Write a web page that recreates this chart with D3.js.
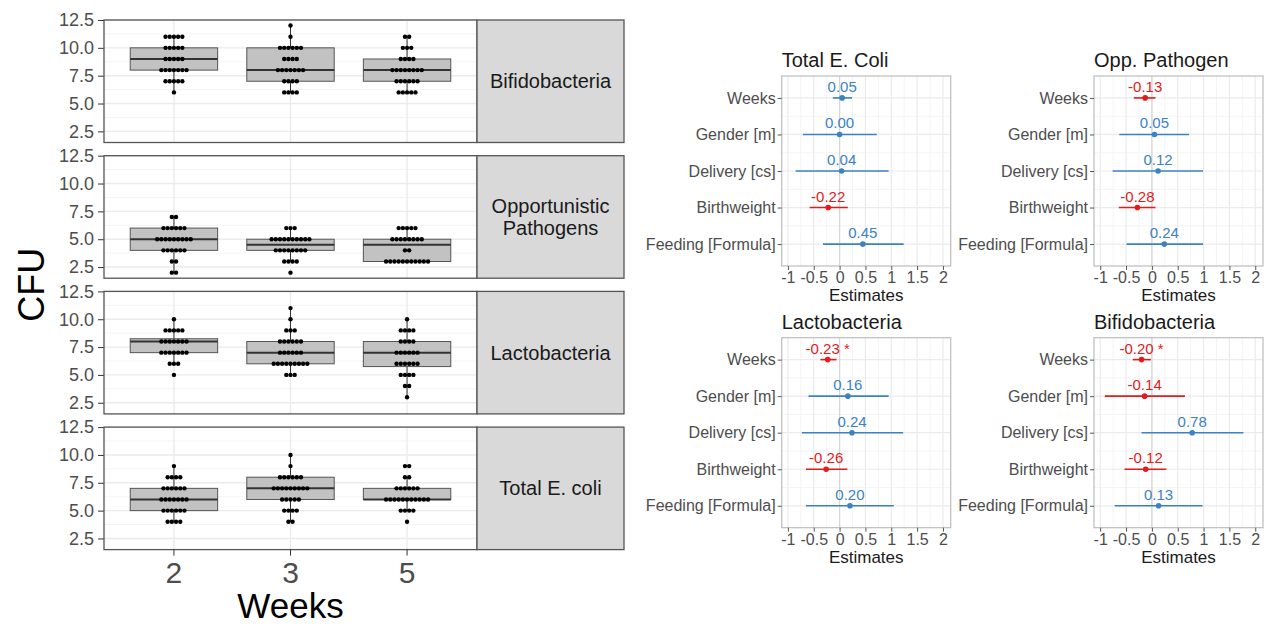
<!DOCTYPE html>
<html>
<head>
<meta charset="utf-8">
<script src="https://cdn.jsdelivr.net/npm/d3@7"></script>
<style>
body { margin: 0; background: #fff; }
svg { font-family: "Liberation Sans", Arial, sans-serif; }
</style>
</head>
<body>
<svg id="plotSvg" width="1266" height="628"></svg>
<script>
// ---- left: CFU per week, faceted by bacteria ----
const weeks = ["2", "3", "5"];
const groups = ["Bifidobacteria", "Opportunistic Pathogens", "Lactobacteria", "Total E. coli"];
const cfuTicks = [2.5, 5, 7.5, 10, 12.5];
const cfuMinor = [3.75, 6.25, 8.75, 11.25];

// [CFU value, number of samples] per week
const bifidoCounts = [
    [[6, 1], [7, 5], [8, 7], [9, 5], [10, 5], [11, 5]],
    [[6, 4], [7, 4], [8, 7], [9, 4], [10, 6], [11, 1], [12, 1]],
    [[6, 5], [7, 6], [8, 8], [9, 4], [10, 3], [11, 2]]
];
const oppCounts = [
    [[2, 2], [3, 2], [4, 6], [5, 9], [6, 6], [7, 2]],
    [[2, 1], [3, 4], [4, 8], [5, 10], [6, 3]],
    [[3, 11], [4, 2], [5, 8], [6, 5]]
];
const lactoCounts = [
    [[5, 1], [6, 3], [7, 7], [8, 7], [9, 5], [10, 1]],
    [[5, 3], [6, 9], [7, 6], [8, 6], [9, 3], [10, 1], [11, 1]],
    [[3, 1], [4, 2], [5, 4], [6, 6], [7, 6], [8, 4], [9, 4], [10, 1]]
];
const ecoliCounts = [
    [[4, 4], [5, 6], [6, 7], [7, 6], [8, 4], [9, 1]],
    [[4, 2], [5, 4], [6, 5], [7, 9], [8, 6], [9, 1], [10, 1]],
    [[4, 1], [5, 4], [6, 11], [7, 6], [8, 2], [9, 2]]
];
const allCounts = [bifidoCounts, oppCounts, lactoCounts, ecoliCounts];

// ---- right: model estimates ----
const predictors = ["Weeks", "Gender [m]", "Delivery [cs]", "Birthweight", "Feeding [Formula]"];
const estTicks = [-1, -0.5, 0, 0.5, 1, 1.5, 2];

const ecoliEst = [0.05, 0.00, 0.04, -0.22, 0.45];
const ecoliLow = [-0.13, -0.71, -0.85, -0.58, -0.32];
const ecoliHigh = [0.24, 0.72, 0.95, 0.16, 1.24];
const ecoliStars = ["", "", "", "", ""];

const oppEst = [-0.13, 0.05, 0.12, -0.28, 0.24];
const oppLow = [-0.35, -0.63, -0.76, -0.64, -0.49];
const oppHigh = [0.07, 0.72, 0.99, 0.07, 0.99];
const oppStars = ["", "", "", "", ""];

const lactoEst = [-0.23, 0.16, 0.24, -0.26, 0.20];
const lactoLow = [-0.37, -0.60, -0.73, -0.65, -0.65];
const lactoHigh = [-0.06, 0.95, 1.23, 0.15, 1.05];
const lactoStars = ["*", "", "", "", ""];

const bifidoEst = [-0.20, -0.14, 0.78, -0.12, 0.13];
const bifidoLow = [-0.37, -0.91, -0.20, -0.53, -0.72];
const bifidoHigh = [-0.02, 0.64, 1.77, 0.28, 0.98];
const bifidoStars = ["*", "", "", "", ""];

const svg = d3.select("#plotSvg");

function boxStats(counts) {
    const vals = [];
    counts.forEach(c => { for (let i = 0; i < c[1]; i++) vals.push(c[0]); });
    vals.sort(d3.ascending);
    const q1 = d3.quantile(vals, 0.25), med = d3.quantile(vals, 0.5), q3 = d3.quantile(vals, 0.75);
    const iqr = q3 - q1;
    return {
        q1: q1, med: med, q3: q3,
        lo: d3.min(vals.filter(v => v >= q1 - 1.5 * iqr)),
        hi: d3.max(vals.filter(v => v <= q3 + 1.5 * iqr))
    };
}

function plotFacets() {
    const left = 104, right = 477, stripRight = 624;
    const top0 = 20, panelH = 122.5, gap = 13.2;

    const x = d3.scaleBand()
        .domain(weeks)
        .range([left, right])
        .paddingInner(0)
        .paddingOuter(0.1);
    const boxW = x.step() * 0.75;
    const dotStep = 4.2;

    groups.forEach(function (name, gi) {
        const top = top0 + gi * (panelH + gap);
        const bottom = top + panelH;
        const y = d3.scaleLinear().domain([1.5, 12.5]).range([bottom, top]);
        const g = svg.append("g");

        // grid
        g.selectAll(".minor").data(cfuMinor).join("line")
            .attr("x1", left).attr("x2", right)
            .attr("y1", d => y(d)).attr("y2", d => y(d))
            .attr("stroke", "#f4f4f4").attr("stroke-width", 1);
        g.selectAll(".major").data(cfuTicks).join("line")
            .attr("x1", left).attr("x2", right)
            .attr("y1", d => y(d)).attr("y2", d => y(d))
            .attr("stroke", "#ebebeb").attr("stroke-width", 1.4);
        g.selectAll(".vmajor").data(weeks).join("line")
            .attr("x1", d => x(d) + x.bandwidth() / 2).attr("x2", d => x(d) + x.bandwidth() / 2)
            .attr("y1", top).attr("y2", bottom)
            .attr("stroke", "#ebebeb").attr("stroke-width", 1.4);

        // boxes
        const counts = allCounts[gi];
        weeks.forEach(function (w, wi) {
            const s = boxStats(counts[wi]);
            const cx = x(w) + x.bandwidth() / 2;
            g.append("line")
                .attr("x1", cx).attr("x2", cx)
                .attr("y1", y(s.q3)).attr("y2", y(s.hi))
                .attr("stroke", "#333").attr("stroke-width", 1);
            g.append("line")
                .attr("x1", cx).attr("x2", cx)
                .attr("y1", y(s.q1)).attr("y2", y(s.lo))
                .attr("stroke", "#333").attr("stroke-width", 1);
            g.append("rect")
                .attr("x", cx - boxW / 2).attr("width", boxW)
                .attr("y", y(s.q3)).attr("height", y(s.q1) - y(s.q3))
                .attr("fill", "#c2c2c2").attr("stroke", "#555").attr("stroke-width", 1);
            g.append("line")
                .attr("x1", cx - boxW / 2).attr("x2", cx + boxW / 2)
                .attr("y1", y(s.med)).attr("y2", y(s.med))
                .attr("stroke", "#333").attr("stroke-width", 2);

            // dot stacks
            const dots = [];
            counts[wi].forEach(c => {
                for (let i = 0; i < c[1]; i++) dots.push({ v: c[0], off: i - (c[1] - 1) / 2 });
            });
            g.selectAll(".dot" + wi).data(dots).join("circle")
                .attr("cx", d => cx + d.off * dotStep)
                .attr("cy", d => y(d.v))
                .attr("r", 2.2)
                .attr("fill", "#000");
        });

        // y axis
        const ya = g.append("g")
            .attr("transform", `translate(${left},0)`)
            .call(d3.axisLeft(y).tickValues(cfuTicks).tickFormat(d3.format(".1f")).tickSize(6).tickPadding(4));
        ya.select(".domain").remove();
        ya.selectAll("line").attr("stroke", "#333");
        ya.selectAll("text").attr("fill", "#4d4d4d").style("font-size", "18px")
            .style("font-family", "Liberation Sans, Arial, sans-serif");

        // panel + strip
        g.append("rect")
            .attr("x", left).attr("y", top).attr("width", right - left).attr("height", panelH)
            .attr("fill", "none").attr("stroke", "#555").attr("stroke-width", 1.3);
        g.append("rect")
            .attr("x", right).attr("y", top).attr("width", stripRight - right).attr("height", panelH)
            .attr("fill", "#d9d9d9").attr("stroke", "#555").attr("stroke-width", 1.3);
        const words = name === "Opportunistic Pathogens" ? ["Opportunistic", "Pathogens"] : [name];
        const st = g.append("text")
            .attr("x", (right + stripRight) / 2)
            .attr("y", (top + bottom) / 2)
            .attr("text-anchor", "middle")
            .attr("fill", "#1a1a1a")
            .style("font-size", "20px");
        words.forEach((wd, i) => {
            st.append("tspan")
                .attr("x", (right + stripRight) / 2)
                .attr("dy", i === 0 ? (0.35 - (words.length - 1) * 0.55) + "em" : "1.1em")
                .text(wd);
        });

        if (gi === groups.length - 1) {
            const xa = g.append("g")
                .attr("transform", `translate(0,${bottom})`)
                .call(d3.axisBottom(x).tickSize(6).tickPadding(6));
            xa.select(".domain").remove();
            xa.selectAll("line").attr("stroke", "#333");
            xa.selectAll("text").attr("fill", "#4d4d4d").style("font-size", "30px")
                .style("font-family", "Liberation Sans, Arial, sans-serif");
        }
    });

    svg.append("text")
        .attr("x", (left + right) / 2)
        .attr("y", 618)
        .attr("text-anchor", "middle")
        .style("font-size", "35px")
        .text("Weeks");

    svg.append("text")
        .attr("transform", `translate(44,${(top0 + top0 + 3 * (panelH + gap) + panelH) / 2})rotate(-90)`)
        .attr("text-anchor", "middle")
        .style("font-size", "36px")
        .text("CFU");
}

function plotForest(title, est, low, high, stars, left, top) {
    const width = 169, height = 190;
    const right = left + width, bottom = top + height;
    const blue = "#3b82c4", red = "#e41a1c";

    const x = d3.scaleLinear().domain([-1.12, 2.15]).range([left, right]);
    const y = d3.scalePoint().domain(predictors).range([top, bottom]).padding(0.6);
    const g = svg.append("g");

    const minorX = d3.range(-0.75, 2.1, 0.5);
    const ys = predictors.map(p => y(p));
    const minorY = d3.range(ys.length - 1).map(i => (ys[i] + ys[i + 1]) / 2);

    g.selectAll(".mx").data(minorX).join("line")
        .attr("x1", d => x(d)).attr("x2", d => x(d)).attr("y1", top).attr("y2", bottom)
        .attr("stroke", "#f4f4f4");
    g.selectAll(".my").data(minorY).join("line")
        .attr("x1", left).attr("x2", right).attr("y1", d => d).attr("y2", d => d)
        .attr("stroke", "#f4f4f4");
    g.selectAll(".gx").data(estTicks).join("line")
        .attr("x1", d => x(d)).attr("x2", d => x(d)).attr("y1", top).attr("y2", bottom)
        .attr("stroke", "#ebebeb").attr("stroke-width", 1.2);
    g.selectAll(".gy").data(predictors).join("line")
        .attr("x1", left).attr("x2", right).attr("y1", d => y(d)).attr("y2", d => y(d))
        .attr("stroke", "#ebebeb").attr("stroke-width", 1.2);
    g.append("line")
        .attr("x1", x(0)).attr("x2", x(0)).attr("y1", top).attr("y2", bottom)
        .attr("stroke", "#d6d6d6").attr("stroke-width", 1.2);

    const rows = predictors.map((p, i) => ({ p: p, est: est[i], low: low[i], high: high[i], star: stars[i] }));
    const col = d => d.est < 0 ? red : blue;

    g.selectAll(".ci").data(rows).join("line")
        .attr("x1", d => x(d.low)).attr("x2", d => x(d.high))
        .attr("y1", d => y(d.p)).attr("y2", d => y(d.p))
        .attr("stroke", col).attr("stroke-width", 1.6);
    g.selectAll(".pt").data(rows).join("circle")
        .attr("cx", d => x(d.est)).attr("cy", d => y(d.p)).attr("r", 2.8)
        .attr("fill", col);
    g.selectAll(".lab").data(rows).join("text")
        .attr("x", d => x(d.est)).attr("y", d => y(d.p) - 6)
        .attr("text-anchor", "middle")
        .attr("fill", col)
        .style("font-size", "15px")
        .text(d => d3.format(".2f")(d.est).replace("\u2212", "-") + (d.star ? " " + d.star : ""));

    g.append("rect")
        .attr("x", left).attr("y", top).attr("width", width).attr("height", height)
        .attr("fill", "none").attr("stroke", "#bdbdbd").attr("stroke-width", 1.2);

    const ya = g.append("g").attr("transform", `translate(${left},0)`)
        .call(d3.axisLeft(y).tickSize(4).tickPadding(2));
    ya.select(".domain").remove();
    ya.selectAll("line").attr("stroke", "#555");
    ya.selectAll("text").attr("fill", "#4d4d4d").style("font-size", "16px")
        .style("font-family", "Liberation Sans, Arial, sans-serif");

    const xa = g.append("g").attr("transform", `translate(0,${bottom})`)
        .call(d3.axisBottom(x).tickValues(estTicks).tickFormat(d => d3.format("")(d).replace("\u2212", "-")).tickSize(4).tickPadding(2));
    xa.select(".domain").remove();
    xa.selectAll("line").attr("stroke", "#555");
    xa.selectAll("text").attr("fill", "#4d4d4d").style("font-size", "16px")
        .style("font-family", "Liberation Sans, Arial, sans-serif");

    g.append("text")
        .attr("x", (left + right) / 2).attr("y", bottom + 35)
        .attr("text-anchor", "middle").attr("fill", "#1a1a1a")
        .style("font-size", "17px")
        .text("Estimates");

    g.append("text")
        .attr("x", left).attr("y", top - 9)
        .attr("fill", "#1a1a1a")
        .style("font-size", "20px")
        .text(title);
}

plotFacets();
plotForest("Total E. Coli", ecoliEst, ecoliLow, ecoliHigh, ecoliStars, 781.7, 76);
plotForest("Opp. Pathogen", oppEst, oppLow, oppHigh, oppStars, 1094, 76);
plotForest("Lactobacteria", lactoEst, lactoLow, lactoHigh, lactoStars, 781.7, 337.7);
plotForest("Bifidobacteria", bifidoEst, bifidoLow, bifidoHigh, bifidoStars, 1094, 337.7);
</script>
</body>
</html>
